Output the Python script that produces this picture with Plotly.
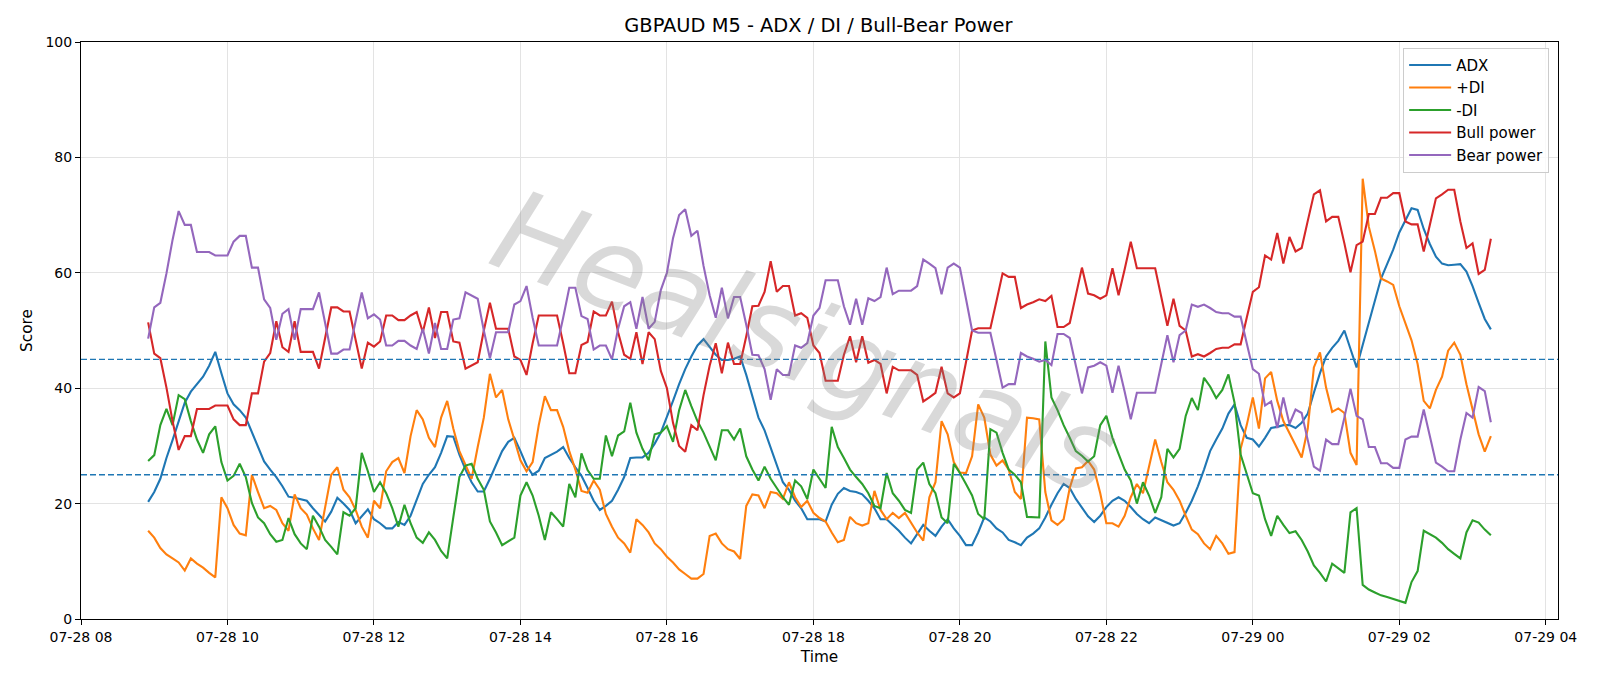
import pandas as pd
import plotly.graph_objects as go

# ---------------- data ----------------
start_time = "2025-07-28 08:55"
n_points = 221
times = pd.date_range(start_time, periods=n_points, freq="5min")

adx = [20.3, 22.0, 24.3, 27.9, 31.0, 34.3, 37.5, 39.4, 40.7, 42.0, 43.9, 46.3, 42.6, 39.1, 37.2, 36.2,
       34.9, 32.3, 29.8, 27.3, 25.9, 24.6, 23.0, 21.2, 21.0, 20.8, 20.5, 19.2, 18.0, 16.9, 18.6, 21.0,
       20.0, 18.9, 16.6, 17.9, 19.0, 17.3, 16.6, 15.7, 15.7, 16.8, 16.3, 17.9, 20.8, 23.4, 25.0, 26.3,
       28.8, 31.7, 31.6, 28.5, 25.9, 23.7, 22.1, 22.1, 24.3, 26.6, 29.1, 30.7, 31.4, 29.1, 26.6, 25.0,
       25.7, 27.9, 28.4, 29.0, 29.8, 27.9, 26.3, 24.8, 22.7,
       20.5, 18.9, 19.6, 20.5, 22.4, 24.6, 27.9, 28.0, 28.0, 28.8, 30.4, 32.3, 34.9, 37.8, 40.7, 43.3,
       45.5, 47.4, 48.5, 47.1, 45.8, 44.9, 44.9, 45.1, 45.5, 42.3, 38.8, 34.9, 32.7, 29.8, 26.6, 23.7,
       22.4, 20.5, 19.2, 17.3, 17.3, 17.3, 16.9, 19.8, 21.7,
       22.7, 22.2, 22.0, 21.6, 20.5, 19.2, 17.3, 17.3, 16.3, 15.3, 14.1, 13.1, 14.7, 16.3, 15.3, 14.4,
       16.0, 17.3, 15.7, 14.4, 12.8, 12.8, 15.0, 17.6, 16.9, 15.7, 15.0, 13.7, 13.3, 12.8, 14.1, 14.8,
       15.7, 17.6, 19.8, 21.8, 23.4, 22.7, 20.8, 19.3, 17.8,
       16.8, 17.9, 19.4, 20.5, 21.1, 20.5, 19.4, 18.2, 17.3, 16.6, 17.6, 17.1, 16.6, 16.2, 16.6, 18.4,
       20.5, 23.0, 25.9, 29.1, 31.1, 33.0, 35.6, 37.2, 33.6, 31.4, 31.1, 29.9, 31.4, 33.1, 33.3, 33.6,
       33.6, 33.1,
       34.0, 35.6, 39.2, 42.6, 45.5, 47.0, 48.2, 50.0, 46.8, 43.6, 47.5, 51.3, 55.2, 59.0, 61.5, 64.0,
       67.0, 69.2, 71.2, 70.9, 67.6, 65.0, 62.8, 61.6, 61.3, 61.4, 61.5, 60.2, 57.7, 54.8, 52.0, 50.2]

plus_di = [15.3, 14.1, 12.3, 11.2, 10.5, 9.8, 8.4, 10.5, 9.6, 8.9, 8.0, 7.2, 21.1, 19.2, 16.3, 14.8,
           14.5, 25.0, 22.0, 19.2, 19.6, 18.9, 16.6, 15.3, 21.6, 19.2, 18.1, 15.7, 13.7, 19.5, 25.0, 26.3,
           22.4, 21.1, 18.9, 16.0, 14.1, 20.5, 19.2, 25.6, 27.2, 27.9, 25.3, 31.7, 36.2, 34.6, 31.4, 29.8,
           34.9, 37.8, 33.0, 29.1, 26.6, 24.3, 29.8, 34.9, 42.5, 38.4, 39.7, 34.6, 31.1, 27.5, 25.6, 27.2,
           33.6, 38.6, 36.2, 36.2, 33.3, 29.1, 25.9, 22.2, 21.9,
           24.0, 22.4, 18.2, 16.0, 14.1, 13.1, 11.5, 17.3, 16.3, 15.0, 13.1, 12.1, 10.8, 9.8, 8.6, 7.8,
           7.0, 7.0, 7.8, 14.4, 14.8, 13.1, 12.1, 11.7, 10.4, 19.6, 21.6, 21.4, 19.2, 22.0, 21.8, 20.8,
           23.7, 21.1, 19.4, 20.5, 18.4, 17.5, 16.9, 15.0, 13.3,
           13.7, 17.7, 16.6, 16.2, 16.6, 22.2, 18.9, 17.3, 18.4, 17.5, 18.4, 16.6, 15.0, 13.6, 21.1, 23.7,
           34.3, 32.0, 27.2, 25.4, 25.3, 28.2, 37.2, 34.9, 28.5, 26.6, 27.5, 25.9, 22.0, 20.8, 34.9, 34.8,
           34.6, 22.0, 17.1, 16.3, 17.3, 22.7, 26.1, 26.3, 27.4,
           25.9, 21.8, 16.6, 16.6, 16.0, 17.9, 21.1, 23.4, 21.8, 26.3, 31.1, 27.2, 23.7, 22.4, 20.5, 17.9,
           15.5, 14.7, 13.1, 12.1, 14.4, 13.1, 11.3, 11.6, 29.5, 33.6, 38.4, 33.0, 41.7, 42.8, 37.8, 34.3,
           32.3, 30.1,
           28.0, 33.0, 43.6, 46.2, 40.1, 35.9, 36.5, 35.7, 28.8, 26.7, 76.3, 68.0, 63.8, 59.0, 58.5, 57.9,
           54.2, 51.3, 48.3, 44.2, 37.8, 36.5, 39.7, 42.0, 46.5, 47.9, 45.8, 40.7, 36.2, 32.0, 29.0, 31.7]

minus_di = [27.4, 28.4, 33.6, 36.4, 33.6, 38.8, 38.1, 34.3, 31.1, 28.8, 32.0, 33.4, 27.2, 24.0, 24.8, 26.9,
            24.6, 20.1, 17.6, 16.6, 14.7, 13.4, 13.7, 17.5, 14.7, 13.1, 12.1, 17.9, 16.0, 13.7, 12.5, 11.2,
            18.5, 17.9, 19.2, 28.8, 25.6, 22.0, 23.7, 21.8, 19.2, 16.0, 19.8, 16.6, 14.1, 13.2, 15.0, 13.7,
            11.8, 10.5, 17.6, 24.6, 26.6, 26.9, 24.3, 22.4, 16.9, 15.0, 12.8, 13.4, 14.1, 21.4, 23.7, 21.4,
            17.9, 13.7, 18.5, 17.3, 16.0, 23.4, 21.1, 28.7, 25.8,
            24.3, 24.3, 31.8, 28.2, 31.8, 32.5, 37.5, 32.3, 29.5, 27.5, 32.0, 32.3, 33.4, 30.7, 36.2, 39.7,
            36.9, 34.3, 32.3, 29.8, 27.5, 32.7, 32.7, 31.1, 33.0, 28.2, 25.9, 24.0, 26.4, 24.3, 22.7, 21.1,
            19.8, 24.0, 23.0, 20.8, 25.9, 24.3, 22.7, 33.3, 29.8,
            27.9, 25.9, 24.6, 23.4, 21.8, 19.6, 19.2, 25.3, 21.8, 20.5, 18.9, 18.4, 25.9, 27.1, 23.4, 21.8,
            17.6, 16.6, 26.9, 25.3, 23.4, 21.4, 18.2, 17.3, 32.9, 32.3, 28.8, 25.9, 25.0, 23.7, 17.7, 17.6,
            17.6, 48.1, 38.4, 36.2, 33.6, 31.4, 29.1, 28.3, 27.3,
            28.2, 33.6, 35.2, 31.4, 28.6, 25.9, 24.0, 20.0, 23.7, 21.4, 18.4, 21.1, 29.5, 28.0, 29.5, 35.2,
            38.3, 36.2, 41.8, 40.3, 38.3, 39.7, 42.4, 37.5, 28.5, 25.3, 21.8, 21.4, 17.3, 14.4, 17.9, 16.3,
            14.9, 15.2,
            13.7, 11.7, 9.3, 8.0, 6.5, 9.6, 8.8, 8.0, 18.5, 19.2, 5.9, 5.1, 4.6, 4.1, 3.8, 3.5,
            3.1, 2.8, 6.4, 8.3, 15.3, 14.7, 14.1, 13.2, 12.1, 11.3, 10.5, 15.0, 17.1, 16.7, 15.5, 14.5]

bull_power = [51.4, 46.0, 45.2, 40.1, 34.3, 29.3, 31.7, 31.7, 36.4, 36.4, 36.4, 37.0, 37.0, 37.0, 34.6, 33.6,
              33.6, 39.1, 39.1, 44.6, 46.1, 51.6, 47.1, 46.3, 51.6, 46.3, 46.3, 46.3, 43.4, 49.0, 54.0, 54.0,
              53.3, 53.3, 48.4, 43.4, 47.9, 47.2, 48.1, 52.6, 52.6, 51.8, 51.8, 52.6, 53.2, 49.7, 54.0, 48.7,
              53.2, 53.2, 48.1, 47.9, 43.4, 43.9, 44.5, 50.0, 54.8, 50.3, 50.3, 50.3, 45.5, 44.9, 42.3, 47.8,
              52.6, 52.6, 52.6, 52.6, 47.8, 42.6, 42.6, 47.5, 48.0,
              53.3, 52.6, 52.6, 55.0, 49.7, 45.8, 45.1, 49.7, 44.2, 49.7, 48.5, 43.0, 40.0, 34.0, 30.0, 29.0,
              33.6, 32.7, 38.8, 43.9, 47.8, 42.6, 47.9, 44.2, 44.2, 49.0, 54.2, 54.3, 56.7, 62.0, 56.7, 57.7,
              57.7, 52.6, 53.0, 52.2, 47.4, 46.1, 41.3, 41.3, 41.3,
              45.8, 49.0, 44.5, 49.0, 44.4, 44.9, 44.2, 39.1, 43.7, 43.1, 43.1, 43.1, 42.3, 37.7, 38.4, 39.2,
              43.7, 39.1, 38.4, 39.1, 44.5, 50.0, 50.4, 50.4, 50.4, 55.1, 59.9, 59.3, 59.3, 53.9, 54.5, 54.9,
              55.4, 55.1, 56.0, 50.6, 50.6, 51.3, 56.0, 60.9, 56.4,
              56.1, 55.5, 56.1, 60.8, 56.1, 60.6, 65.4, 60.8, 60.8, 60.8, 60.8, 55.8, 50.8, 55.5, 50.8, 50.0,
              45.5, 45.9, 45.5, 46.1, 46.8, 47.0, 47.0, 47.6, 47.6, 52.2, 56.7, 57.5, 63.0, 62.3, 66.9, 61.6,
              66.2, 63.7,
              64.3, 69.0, 73.6, 74.3, 68.9, 69.7, 69.7, 65.1, 60.1, 64.8, 65.4, 70.2, 70.2, 73.0, 73.0, 73.8,
              73.8, 68.9, 68.4, 68.4, 63.7, 68.3, 72.9, 73.6, 74.4, 74.4, 68.9, 64.3, 65.1, 59.8, 60.5, 65.9]

bear_power = [48.6, 54.0, 54.8, 59.9, 65.7, 70.7, 68.3, 68.3, 63.6, 63.6, 63.6, 63.0, 63.0, 63.0, 65.4, 66.4,
              66.4, 60.9, 60.9, 55.4, 53.9, 48.4, 52.9, 53.7, 48.4, 53.7, 53.7, 53.7, 56.6, 51.0, 46.0, 46.0,
              46.7, 46.7, 51.6, 56.6, 52.1, 52.8, 51.9, 47.4, 47.4, 48.2, 48.2, 47.4, 46.8, 50.3, 46.0, 51.3,
              46.8, 46.8, 51.9, 52.1, 56.6, 56.1, 55.5, 50.0, 45.2, 49.7, 49.7, 49.7, 54.5, 55.1, 57.7, 52.2,
              47.4, 47.4, 47.4, 47.4, 52.2, 57.4, 57.4, 52.5, 52.0,
              46.7, 47.4, 47.4, 45.0, 50.3, 54.2, 54.9, 50.3, 55.8, 50.3, 51.5, 57.0, 60.0, 66.0, 70.0, 71.0,
              66.4, 67.3, 61.2, 56.1, 52.2, 57.4, 52.1, 55.8, 55.8, 51.0, 45.8, 45.7, 43.3, 38.0, 43.3, 42.3,
              42.3, 47.4, 47.0, 47.8, 52.6, 53.9, 58.7, 58.7, 58.7,
              54.2, 51.0, 55.5, 51.0, 55.6, 55.1, 55.8, 60.9, 56.3, 56.9, 56.9, 56.9, 57.7, 62.3, 61.6, 60.8,
              56.3, 60.9, 61.6, 60.9, 55.5, 50.0, 49.6, 49.6, 49.6, 44.9, 40.1, 40.7, 40.7, 46.1, 45.5, 45.1,
              44.6, 44.9, 44.0, 49.4, 49.4, 48.7, 44.0, 39.1, 43.6,
              43.9, 44.5, 43.9, 39.2, 43.9, 39.4, 34.6, 39.2, 39.2, 39.2, 39.2, 44.2, 49.2, 44.5, 49.2, 50.0,
              54.5, 54.1, 54.5, 53.9, 53.2, 53.0, 53.0, 52.4, 52.4, 47.8, 43.3, 42.5, 37.0, 37.7, 33.1, 38.4,
              33.8, 36.3,
              35.7, 31.0, 26.4, 25.7, 31.1, 30.3, 30.3, 34.9, 39.9, 35.2, 34.6, 29.8, 29.8, 27.0, 27.0, 26.2,
              26.2, 31.1, 31.6, 31.6, 36.3, 31.7, 27.1, 26.4, 25.6, 25.6, 31.1, 35.7, 34.9, 40.2, 39.5, 34.1]

series_names = ["ADX", "+DI", "-DI", "Bull power", "Bear power"]
series_values = [adx, plus_di, minus_di, bull_power, bear_power]
series_colors = ["#1f77b4", "#ff7f0e", "#2ca02c", "#d62728", "#9467bd"]
threshold_levels = [45, 25]

x_range = ["2025-07-28 08:00", "2025-07-29 04:10"]
tick_vals = pd.date_range("2025-07-28 08:00", "2025-07-29 04:00", freq="2h")
tick_text = [t.strftime("%m-%d %H") for t in tick_vals]

FONT = "DejaVu Sans, Liberation Sans, sans-serif"

# ---------------- figure ----------------
fig = go.Figure()
for name, vals, col in zip(series_names, series_values, series_colors):
    fig.add_trace(go.Scatter(x=times, y=vals, mode="lines", name=name,
                             line=dict(color=col, width=2.1)))

for lvl in threshold_levels:
    fig.add_shape(type="line", xref="paper", x0=0, x1=1, yref="y", y0=lvl, y1=lvl,
                  line=dict(color="#1f77b4", width=1.4, dash="6px,3px"), layer="above")

# faint watermark
fig.add_annotation(text="Healsignals", xref="paper", yref="paper", x=0.49, y=0.48,
                   showarrow=False, textangle=21,
                   font=dict(family="DejaVu Sans ExtraLight, DejaVu Sans", size=114,
                             color="rgba(130,130,130,0.30)", style="italic", weight=200))

fig.update_layout(
    width=1600, height=686,
    margin=dict(l=81, r=42, t=42, b=67),
    paper_bgcolor="white", plot_bgcolor="white",
    font=dict(family=FONT, size=14, color="black"),
    title=dict(text="GBPAUD M5 - ADX / DI / Bull-Bear Power", x=0.5115, xanchor="center",
               y=1 - 25.5 / 686, yanchor="middle", font=dict(size=19.4)),
    showlegend=True,
    legend=dict(x=0.994, y=0.99, xanchor="right", yanchor="top",
                bgcolor="rgba(255,255,255,0.8)", bordercolor="#cccccc", borderwidth=1,
                font=dict(size=15), tracegroupgap=0, itemwidth=42),
)
fig.update_xaxes(range=x_range, tickvals=tick_vals, ticktext=tick_text,
                 showgrid=True, gridcolor="#e3e3e3", gridwidth=1,
                 showline=True, linecolor="black", linewidth=1, mirror=True,
                 ticks="outside", ticklen=5, tickcolor="black", tickfont=dict(size=14),
                 title=dict(text="Time", font=dict(size=15.3), standoff=7), zeroline=False)
fig.update_yaxes(range=[0, 100], tickvals=[0, 20, 40, 60, 80, 100],
                 showgrid=True, gridcolor="#e3e3e3", gridwidth=1,
                 showline=True, linecolor="black", linewidth=1, mirror=True,
                 ticks="outside", ticklen=5, tickcolor="black", tickfont=dict(size=14),
                 title=dict(text="Score", font=dict(size=15.3), standoff=9), zeroline=False)

fig.write_html("out.html")
